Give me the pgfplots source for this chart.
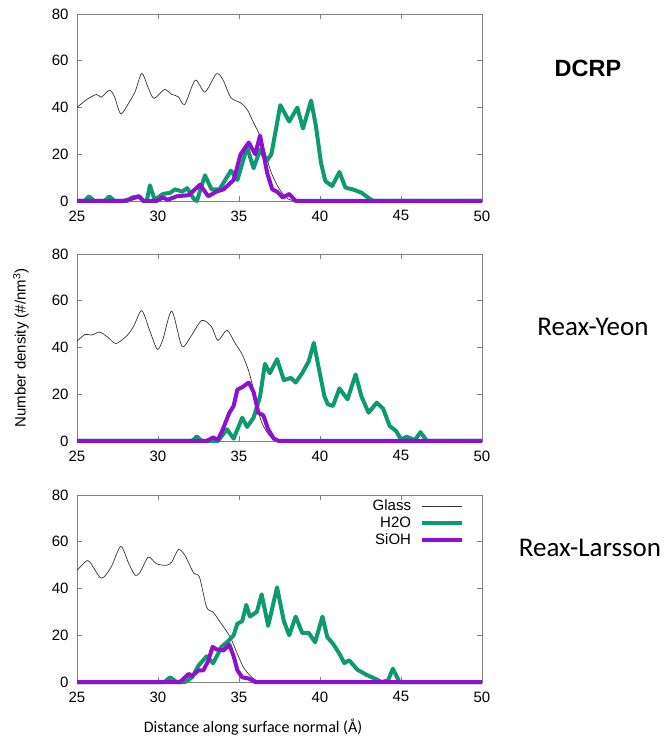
\documentclass[border=0pt]{standalone}
\usepackage{fontspec}
\setmainfont{Liberation Sans}
\newfontfamily\calibri{Carlito}
\usepackage{pgfplots}
\usepackage{pgfplotstable}
\pgfplotsset{compat=1.18}
\definecolor{cgreen}{HTML}{0E9A70}
\definecolor{cpurple}{HTML}{8E10D0}
\definecolor{cglass}{HTML}{333333}

\pgfplotstableread{
x y
25 40
25.6 43.4
26.2 45.6
26.5 44.4
27.0 47.4
27.3 44.9
27.7 37.3
28.2 42
28.6 47
29.0 54.6
29.4 48.4
29.75 43.9
30.4 47.7
30.85 45.6
31.25 44.6
31.65 41.3
32.3 51.7
32.9 46.6
33.6 54.4
34.0 52
34.5 44.2
35.1 42
35.5 39.2
35.9 33.5
36.3 27.8
36.6 21
37.0 12
37.5 5
38.0 1
38.5 0
39.5 0
50 0
}\glassA
\pgfplotstableread{
x y
25 0
25.45 0
25.75 2
26.05 0
26.7 0
27.0 2
27.3 0
28.1 0
28.4 1.5
28.8 2
29.1 0
29.3 0
29.5 6.7
29.8 0.5
30.3 3
30.75 3.5
31.05 5
31.5 4
31.8 5.5
32.2 1
32.4 0
32.9 11
33.3 5
33.8 5
34.5 13
34.9 9
35.5 23
35.9 14
36.3 22
36.7 17
37.0 20
37.55 41
38.1 34
38.6 40
38.95 31
39.45 43
39.75 32
40.06 16.4
40.33 8.5
40.75 6.4
41.2 12.4
41.57 5.7
42.0 5
42.55 3.6
43.06 1
43.3 0
50 0
}\waterA
\pgfplotstableread{
x y
25 0
27.85 0
28.4 1
28.85 2
29.1 0
29.9 0
30.3 1.5
30.6 0.5
31.15 2
31.9 2.5
32.6 7
33.1 2
33.6 4
34.05 5
34.67 9
35.1 20
35.6 25
36.0 20
36.3 28
36.74 12
37.05 5
37.35 4
37.7 1.5
38.1 3
38.5 0
50 0
}\siohA

\pgfplotstableread{
x y
25 42.7
25.5 45.6
25.9 45.3
26.4 46.6
26.9 44.4
27.4 41.7
28.06 44.9
28.5 49.1
29.0 55.8
29.5 47
29.96 39.2
30.3 43.4
30.85 55.6
31.47 40.6
31.98 44.2
32.7 51.6
33.3 48.9
33.7 43
34.26 47.4
34.77 41.7
35.2 37
35.6 29.9
35.9 22
36.1 15
36.4 8
36.8 3
37.2 0.5
37.6 0
38.5 0
50 0
}\glassB
\pgfplotstableread{
x y
25 0
32.1 0
32.4 2
32.7 0
33.7 0
34.26 5
34.67 1
35.2 10
35.5 6
35.9 10
36.3 19
36.6 33
36.9 29
37.35 35
37.77 26
38.2 27
38.5 25
38.9 29
39.3 34
39.62 42
39.9 32
40.27 19.2
40.48 15.7
40.8 15
41.2 22.5
41.7 17.8
42.2 28.5
42.55 19.2
43.0 12.1
43.5 16.4
43.9 13.8
44.3 6.4
44.7 4.3
45.0 0.7
45.35 1.8
45.86 0.4
46.2 3.8
46.6 0
50 0
}\waterB
\pgfplotstableread{
x y
25 0
33.0 0
33.4 1.5
33.7 0.5
34.0 5
34.4 12
34.67 15
34.9 22
35.2 23
35.6 25
35.9 21
36.2 12
36.5 11
36.8 5
37.15 1
37.46 0
50 0
}\siohB

\pgfplotstableread{
x y
25 47.7
25.54 51.6
25.8 51.3
26.5 44.4
27.1 49.1
27.7 58
28.2 50.6
28.6 45.6
28.9 47
29.4 53.4
29.9 50.6
30.5 49.9
30.85 51.3
31.26 56.7
31.67 54.1
32.2 46.6
32.56 44.9
33.0 32
33.4 29.9
33.84 25.6
34.46 19.2
34.9 12
35.3 6
35.8 2
36.3 0
37.0 0
50 0
}\glassC
\pgfplotstableread{
x y
25 0
30.4 0
30.74 2
31.15 0
31.67 0
32.1 2
32.5 7
33.0 11
33.4 8
33.7 12
33.9 15
34.26 17
34.67 20
34.9 25
35.2 26
35.45 33
35.67 28
36.1 30
36.4 37.5
36.8 24
37.35 40.5
37.77 26
38.1 20
38.5 28
38.9 21
39.3 21
39.7 17
40.15 28
40.45 19.2
40.8 16.4
41.2 12.1
41.5 8.1
41.8 9.3
42.3 5.3
42.86 3.1
43.4 1.4
43.8 0
44.2 0.7
44.5 5.7
44.9 0
50 0
}\waterC
\pgfplotstableread{
x y
25 0
31.36 0
31.9 3.5
32.1 2.5
32.5 5
32.8 5
33.1 9
33.37 15
33.6 14
34.05 13.5
34.4 16
34.67 11
34.9 5
35.2 2
35.6 1.5
36.0 0
50 0
}\siohC

\pgfplotsset{
  panel/.style={
    width=405pt, height=187pt, scale only axis,
    anchor=south west,
    xmin=25, xmax=50, ymin=0, ymax=80,
    xtick={25,30,...,50}, ytick={0,20,...,80},
    tick align=inside, major tick length=5pt,
    axis line style={gray, line width=0.8pt},
    tick style={gray, line width=0.6pt},
    ticklabel style={font=\fontsize{15}{17}\selectfont},
    xticklabel style={yshift=-6pt},
    yticklabel style={xshift=-5pt},
    /pgf/number format/assume math mode=true,
    clip=false,
  },
  glass/.style={cglass, line width=0.7pt, smooth, tension=0.45},
  water/.style={cgreen, line width=4pt, line join=round},
  sioh/.style={cpurple, line width=4pt, line join=round},
}

\begin{document}
\begin{tikzpicture}
\useasboundingbox (0pt,0pt) rectangle (667pt,740pt);

\begin{axis}[panel, at={(77pt,539pt)}]
\addplot[glass] table[x=x,y=y]{\glassA};
\addplot[water] table[x=x,y=y]{\waterA};
\addplot[sioh] table[x=x,y=y]{\siohA};
\end{axis}

\begin{axis}[panel, at={(77pt,299pt)}]
\addplot[glass] table[x=x,y=y]{\glassB};
\addplot[water] table[x=x,y=y]{\waterB};
\addplot[sioh] table[x=x,y=y]{\siohB};
\end{axis}

\begin{axis}[panel, at={(77pt,58pt)},
  legend style={draw=none, fill=none, at={(0.955,0.98)}, anchor=north east,
    font=\fontsize{15}{16}\selectfont, inner sep=0pt, row sep=2pt, column sep=8pt,
    nodes={inner sep=0.5pt, text height=11pt, text depth=3pt}},
  legend plot pos=right, legend cell align=right,
  legend image code/.code={\draw[#1] (0pt,0pt) -- (40pt,0pt);}]
\addplot[glass] table[x=x,y=y]{\glassC};
\addlegendentry{Glass}
\addplot[water] table[x=x,y=y]{\waterC};
\addlegendentry{H2O}
\addplot[sioh] table[x=x,y=y]{\siohC};
\addlegendentry{SiOH}
\end{axis}

\node[font=\fontsize{23.5}{26}\selectfont\bfseries] at (588pt,672pt) {DCRP};
\node[font=\calibri\fontsize{27}{30}\selectfont] at (593pt,413pt) {Reax-Yeon};
\node[font=\calibri\fontsize{27}{30}\selectfont] at (590pt,192pt) {Reax-Larsson};
\node[font=\calibri\fontsize{16}{18}\selectfont] at (253pt,13pt) {Distance along surface normal (Å)};
\node[font=\fontsize{15}{17}\selectfont, rotate=90] at (21pt,392pt) {Number density (\#/nm\textsuperscript{3})};
\end{tikzpicture}
\end{document}
